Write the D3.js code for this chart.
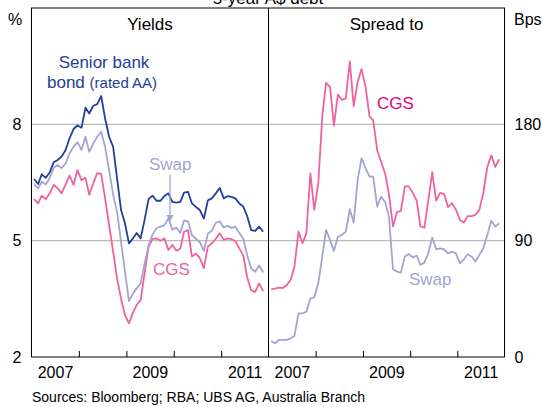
<!DOCTYPE html>
<html><head><meta charset="utf-8">
<script src="https://cdn.jsdelivr.net/npm/d3@7"></script>
<style>
body{margin:0;background:#fff;}
svg{display:block;font-family:"Liberation Sans",Arial,Helvetica,sans-serif;}
</style></head><body>
<svg id="c" width="543" height="407"></svg>
<script>
// ---- data (monthly, Jan 2007 - Nov 2011) ----
const monthCount = 59;
const dates = d3.range(monthCount).map(i => new Date(2007, i, 21));
const bankBond = [6.59,6.46,6.71,6.62,6.76,7.02,7.08,7.17,7.34,7.64,7.88,7.97,7.91,8.43,8.28,8.48,8.52,8.73,8.15,7.68,7.42,6.61,5.79,5.45,4.93,5.06,5.20,5.06,5.53,6.07,6.16,6.03,6.03,6.15,6.22,6.00,5.98,6.00,6.24,6.26,5.96,5.87,5.79,5.57,6.04,6.09,6.22,6.36,6.09,6.15,6.13,6.09,5.96,5.88,5.63,5.27,5.25,5.36,5.23];
const swapYield = [6.45,6.35,6.52,6.45,6.61,6.88,6.95,6.87,6.99,7.25,7.42,7.54,7.34,7.68,7.29,7.51,7.68,7.81,7.42,6.82,6.18,5.75,4.97,4.20,3.44,3.64,3.77,3.90,4.40,4.88,5.15,5.32,5.36,5.40,5.58,5.28,5.34,5.20,5.52,5.50,5.14,5.05,4.96,4.74,5.18,5.26,5.46,5.50,5.34,5.38,5.33,5.36,5.20,5.05,4.62,4.28,4.20,4.36,4.18];
const cgsYield = [6.07,5.96,6.16,6.07,6.22,6.44,6.35,6.22,6.45,6.68,6.44,6.82,6.56,6.62,6.18,6.48,6.74,6.72,6.09,5.40,4.72,4.03,3.51,3.08,2.87,3.15,3.34,3.47,4.15,4.85,5.04,5.06,5.00,5.06,4.76,4.89,4.74,4.80,5.23,5.27,4.59,4.67,4.55,4.29,4.85,4.93,5.05,5.19,5.02,5.06,5.04,4.99,4.80,4.62,4.05,3.72,3.68,3.90,3.70];
const cgsSpread = [52.4,52.9,53.7,53.4,55.5,59.6,69.9,97,88,95.7,142,113.8,134,186,212,209,179,203,199,200,228.6,194,213,222.7,209,186,183,160,151,142,126,101,112,113,132,132,127,121,101,100,121,143,121,127,126,116,119,114,106,104,109,109,110,114,127,147,156,147,153];
const swapSpread = [12.4,10.6,13.2,13.2,13.2,14.4,16.5,33.8,33.8,35,45.4,46.2,57,77.7,98.3,90.6,82,93,94.4,97,114.3,104,137,153.8,146,139.6,139.6,116.4,124,120,108.6,67.9,66,65.3,77.7,79.7,77.1,78.4,71.2,73,80.2,92.4,83.3,84.1,83.3,80.2,81.5,80.2,72.5,75.6,79.5,77.7,73.8,79,84.1,94.4,105.5,100.9,103.5];
const yieldTicks = [2,5,8];
const spreadTicks = [0,90,180];
const yearLabels = [2007, 2009, 2011];
const yearBoundaries = [2008, 2009, 2010, 2011];
const gridYields = [5, 8];

// ---- layout ----
const L = 31.5, M = 268.5, R = 504.5, T = 8, B = 357;
const colBlue = "#21409a", colSwap = "#a4a4d4", colCgs = "#f0629f", colCgsLab = "#e6007e";
const svg = d3.select("#c");

const xL = d3.scaleTime().domain([new Date(2007,0,1), new Date(2012,0,1)]).range([L, M]);
const xR = d3.scaleTime().domain([new Date(2007,0,1), new Date(2012,0,1)]).range([M, R]);
const yL = d3.scaleLinear().domain([2, 11]).range([B, T]);
const yR = d3.scaleLinear().domain([0, 270]).range([B, T]);

// title (cut off at top)
svg.append("text").attr("x", 268).attr("y", 3.5).attr("text-anchor", "middle")
  .attr("font-size", 17).text("5-year A$ debt");

// gridlines
svg.append("g").selectAll("line").data(gridYields).join("line")
  .attr("x1", L).attr("x2", R).attr("y1", d => yL(d)).attr("y2", d => yL(d))
  .attr("stroke", "#bcbcbc").attr("stroke-width", 1.3);

// lines
function drawLine(x, y, vals, color) {
  const line = d3.line().x((d, i) => x(dates[i])).y(d => y(d));
  svg.append("path").datum(vals).attr("d", line)
    .attr("fill", "none").attr("stroke", color).attr("stroke-width", 1.8)
    .attr("stroke-linejoin", "round");
}
drawLine(xL, yL, cgsYield, colCgs);
drawLine(xL, yL, swapYield, colSwap);
drawLine(xL, yL, bankBond, colBlue);
drawLine(xR, yR, swapSpread, colSwap);
drawLine(xR, yR, cgsSpread, colCgs);

// frame
svg.append("rect").attr("x", L).attr("y", T).attr("width", R - L).attr("height", B - T)
  .attr("fill", "none").attr("stroke", "#000").attr("stroke-width", 1);
svg.append("line").attr("x1", M).attr("x2", M).attr("y1", T).attr("y2", B)
  .attr("stroke", "#000").attr("stroke-width", 1);

// axes
function styleAxis(g) {
  g.select(".domain").remove();
  g.attr("font-family", null).attr("font-size", null);
  g.selectAll("text").attr("font-size", 16).attr("fill", "#000");
  g.selectAll("line").attr("stroke", "#000");
}
svg.append("g").attr("transform", `translate(${L},0)`)
  .call(d3.axisLeft(yL).tickValues(yieldTicks).tickSize(0).tickPadding(10))
  .call(styleAxis);
svg.append("g").attr("transform", `translate(${R},0)`)
  .call(d3.axisRight(yR).tickValues(spreadTicks).tickSize(0).tickPadding(10))
  .call(styleAxis);

[xL, xR].forEach(x => {
  svg.append("g").attr("transform", `translate(0,${B})`)
    .call(d3.axisBottom(x).tickValues(yearBoundaries.map(y => new Date(y,0,1)))
      .tickSizeInner(-6).tickSizeOuter(0).tickFormat(""))
    .call(styleAxis);
  svg.append("g").attr("transform", `translate(0,${B})`)
    .call(d3.axisBottom(x).tickValues(yearLabels.map(y => new Date(y,6,1)))
      .tickSize(0).tickPadding(10).tickFormat(d3.timeFormat("%Y")))
    .call(styleAxis);
});

// unit labels
svg.append("text").attr("x", 15).attr("y", 25).attr("text-anchor", "middle").attr("font-size", 16).text("%");
svg.append("text").attr("x", 514).attr("y", 25).attr("font-size", 16).text("Bps");

// panel titles
svg.append("text").attr("x", (L + M) / 2).attr("y", 30).attr("text-anchor", "middle").attr("font-size", 17).text("Yields");
svg.append("text").attr("x", (M + R) / 2).attr("y", 30).attr("text-anchor", "middle").attr("font-size", 17).text("Spread to");

// series labels
svg.append("text").attr("x", 104).attr("y", 68).attr("text-anchor", "middle").attr("font-size", 17).attr("fill", colBlue).text("Senior bank");
const t2 = svg.append("text").attr("x", 47).attr("y", 88).attr("font-size", 17).attr("fill", colBlue);
t2.append("tspan").text("bond ");
t2.append("tspan").attr("font-size", 15).text("(rated AA)");
svg.append("text").attr("x", 149).attr("y", 170).attr("font-size", 17).attr("fill", colSwap).text("Swap");
svg.append("text").attr("x", 153).attr("y", 275).attr("font-size", 17).attr("fill", colCgs).text("CGS");
svg.append("text").attr("x", 377).attr("y", 109).attr("font-size", 17).attr("fill", colCgsLab).text("CGS");
svg.append("text").attr("x", 409).attr("y", 285).attr("font-size", 17).attr("fill", colSwap).text("Swap");

// arrow
svg.append("line").attr("x1", 170).attr("x2", 170).attr("y1", 175).attr("y2", 216)
  .attr("stroke", colSwap).attr("stroke-width", 1.3);
svg.append("path").attr("d", d3.line()([[166.5, 215], [173.5, 215], [170, 222]]) + "Z").attr("fill", colSwap);

// source
svg.append("text").attr("x", 32).attr("y", 402).attr("font-size", 14).text("Sources: Bloomberg; RBA; UBS AG, Australia Branch");
</script>
</body></html>
